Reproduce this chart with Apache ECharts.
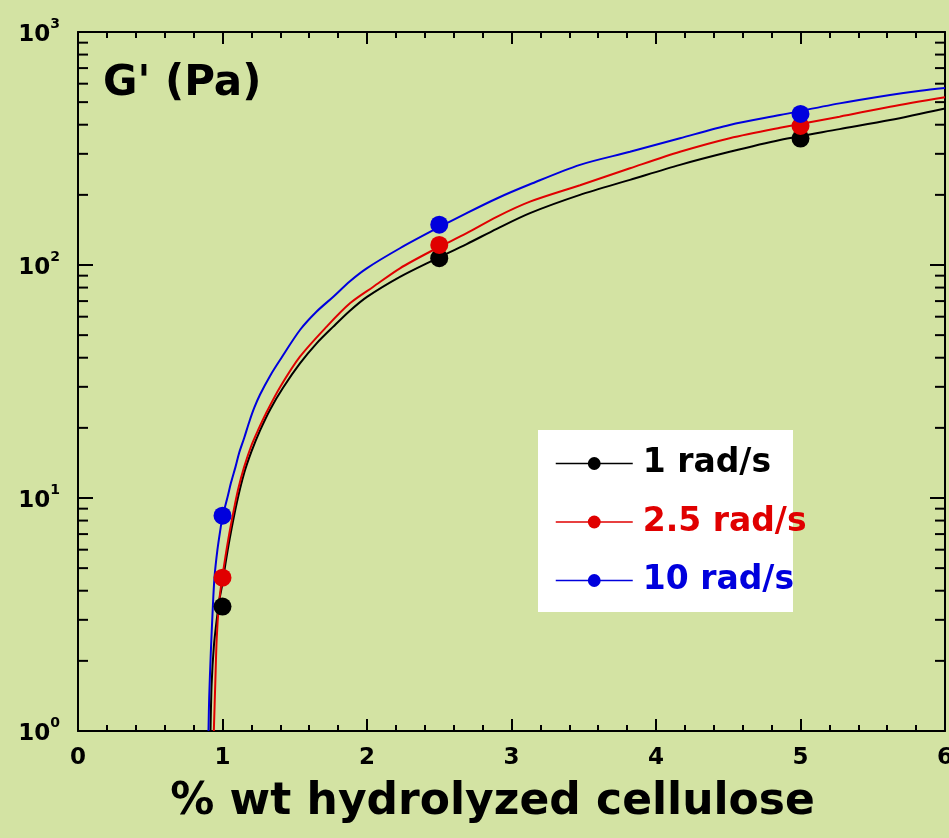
<!DOCTYPE html>
<html><head><meta charset="utf-8">
<script src="https://cdn.jsdelivr.net/npm/echarts@6/dist/echarts.min.js"></script>
<style>html,body{margin:0;padding:0;background:#d3e3a3}#c{width:949px;height:838px}</style>
</head><body><div id="c"></div>
<script>
const seriesNames = ['1 rad/s', '2.5 rad/s', '10 rad/s'];
const seriesColors = ['#000000', '#e00000', '#0000dd'];

// fitted curves [x, G']
const curve1 = [[0.917,1.0],[0.925,1.6],[0.94,2.3],[0.96,3.0],[0.98,3.7],[1.0,4.3],[1.02,5.2],[1.05,6.7],[1.1,9.6],[1.15,12.8],[1.2,15.8],[1.26,19.5],[1.33,24.0],[1.42,29.8],[1.536,37.8],[1.65,46.0],[1.767,54.4],[1.88,63.5],[2.0,73.0],[2.228,89.0],[2.459,105],[2.69,123],[2.898,143],[3.128,167],[3.474,200],[3.82,232],[4.166,269],[4.51,306],[4.858,344],[5.27,383],[5.62,419],[6.0,470]];
const curve25 = [[0.94,1.0],[0.95,1.6],[0.96,2.5],[0.975,3.5],[0.99,4.2],[1.01,5.1],[1.03,6.1],[1.05,7.2],[1.08,9.0],[1.11,11.0],[1.15,13.6],[1.2,16.8],[1.25,19.8],[1.3,23.0],[1.4,30.0],[1.536,40.4],[1.721,54.4],[1.882,68.5],[2.044,80.7],[2.228,96.8],[2.459,116],[2.69,137],[2.898,161],[3.128,187],[3.474,220],[3.82,260],[4.166,306],[4.51,350],[4.858,388],[5.27,433],[5.62,478],[6.0,525]];
const curve10 = [[0.903,1.0],[0.908,1.4],[0.919,2.16],[0.932,3.3],[0.945,4.6],[0.965,6.0],[0.985,7.3],[1.0,8.3],[1.035,10.1],[1.06,11.7],[1.09,13.6],[1.115,15.6],[1.15,18.1],[1.185,21.2],[1.22,24.4],[1.26,27.8],[1.33,33.5],[1.398,39.1],[1.536,52.6],[1.65,63],[1.767,73.1],[1.88,85],[1.998,96.8],[2.228,118],[2.459,141],[2.69,167],[2.898,193],[3.128,222],[3.474,269],[3.82,306],[4.166,350],[4.51,399],[4.858,440],[5.27,494],[5.62,537],[5.83,560],[6.0,575]];

// measured points
const points1 = [[1,3.42],[2.5,107],[5,349]];
const points25 = [[1,4.55],[2.5,122],[5,395]];
const points10 = [[1,8.4],[2.5,149],[5,445]];

const yMinorTicks = [2,3,4,5,6,7,8,9,20,30,40,50,60,70,80,90,200,300,400,500,600,700,800,900];
const xAxisTitle = '% wt hydrolyzed cellulose';
const yAxisTitle = "G' (Pa)";

const FONT = "'DejaVu Sans', sans-serif";
const curves = [curve1, curve25, curve10];
const points = [points1, points25, points10];

const chart = echarts.init(document.getElementById('c'), null, {renderer: 'canvas'});

const axisLineStyle = {color: '#000', width: 2};
function xAx(pos, showLabel) {
  return {
    type: 'value', min: 0, max: 6, interval: 1, position: pos,
    axisLine: {onZero: false, lineStyle: axisLineStyle},
    axisTick: {inside: true, length: 12, lineStyle: {color: '#000', width: 2}},
    minorTick: {show: true, splitNumber: 5, length: 6, lineStyle: {color: '#000', width: 2}},
    splitLine: {show: false},
    axisLabel: {show: showLabel, fontFamily: FONT, fontWeight: 'bold', fontSize: 23, color: '#000', margin: 16},
    name: showLabel ? xAxisTitle : '',
    nameLocation: 'middle', nameGap: 50,
    nameTextStyle: {fontFamily: FONT, fontWeight: 'bold', fontSize: 44, color: '#000', padding: [0, 38, 0, 0]}
  };
}
function yAx(pos, showLabel) {
  return {
    type: 'log', logBase: 10, min: 1, max: 1000, position: pos,
    axisLine: {onZero: false, lineStyle: axisLineStyle},
    axisTick: {inside: true, length: 15, lineStyle: {color: '#000', width: 2}},
    minorTick: {show: false},
    splitLine: {show: false},
    axisLabel: {
      show: showLabel, margin: 18,
      formatter: v => '{b|10}{s|' + Math.round(Math.log10(v)) + '}',
      rich: {
        b: {fontFamily: FONT, fontWeight: 'bold', fontSize: 23, color: '#000', lineHeight: 30, verticalAlign: 'bottom'},
        s: {fontFamily: FONT, fontWeight: 'bold', fontSize: 14, color: '#000', lineHeight: 14, verticalAlign: 'top'}
      }
    }
  };
}

const series = [];
curves.forEach((c, i) => {
  series.push({
    name: seriesNames[i], type: 'line', data: c, xAxisIndex: 0, yAxisIndex: 0,
    symbol: 'circle', showSymbol: false, smooth: 0.3,
    lineStyle: {color: seriesColors[i], width: 2}, itemStyle: {color: seriesColors[i]},
    z: 2
  });
});
points.forEach((p, i) => {
  series.push({
    name: seriesNames[i], type: 'scatter', data: p, xAxisIndex: 0, yAxisIndex: 0,
    symbol: 'circle', symbolSize: 18, itemStyle: {color: seriesColors[i], opacity: 1}, z: 3
  });
});
series.push({
  type: 'custom', silent: true, xAxisIndex: 0, yAxisIndex: 0, clip: false, z: 5,
  data: yMinorTicks.map(v => [0, v]),
  renderItem: (params, api) => {
    const v = api.value(1);
    const L = api.coord([0, v]);
    const R = api.coord([6, v]);
    return {type: 'group', children: [
      {type: 'line', shape: {x1: L[0], y1: L[1], x2: L[0] + 10, y2: L[1]}, style: {stroke: '#000', lineWidth: 2}},
      {type: 'line', shape: {x1: R[0] - 10, y1: R[1], x2: R[0], y2: R[1]}, style: {stroke: '#000', lineWidth: 2}}
    ]};
  }
});

chart.setOption({
  animation: false,
  backgroundColor: '#d3e3a3',
  grid: {left: 78, right: 4, top: 32, bottom: 107, containLabel: false, outerBoundsMode: 'none'},
  title: {text: yAxisTitle, left: 98, top: 58, textStyle: {fontFamily: FONT, fontWeight: 'bold', fontSize: 42, color: '#000'}},
  graphic: [{type: 'rect', left: 538, top: 430, shape: {width: 255, height: 182}, style: {fill: '#ffffff'}, z: 3}],
  legend: {
    orient: 'vertical', left: 550, top: 442, itemWidth: 77, itemHeight: 16, itemGap: 25.5,
    selectedMode: false,
    data: seriesNames.map((n, i) => ({name: n, textStyle: {color: seriesColors[i]}})),
    textStyle: {fontFamily: FONT, fontWeight: 'bold', fontSize: 33, lineHeight: 32, padding: [0, 0, 0, 5]},
    lineStyle: {width: 1.5},
    z: 6
  },
  xAxis: [xAx('bottom', true), xAx('top', false)],
  yAxis: [yAx('left', true), yAx('right', false)],
  series: series
});
</script>
</body></html>
